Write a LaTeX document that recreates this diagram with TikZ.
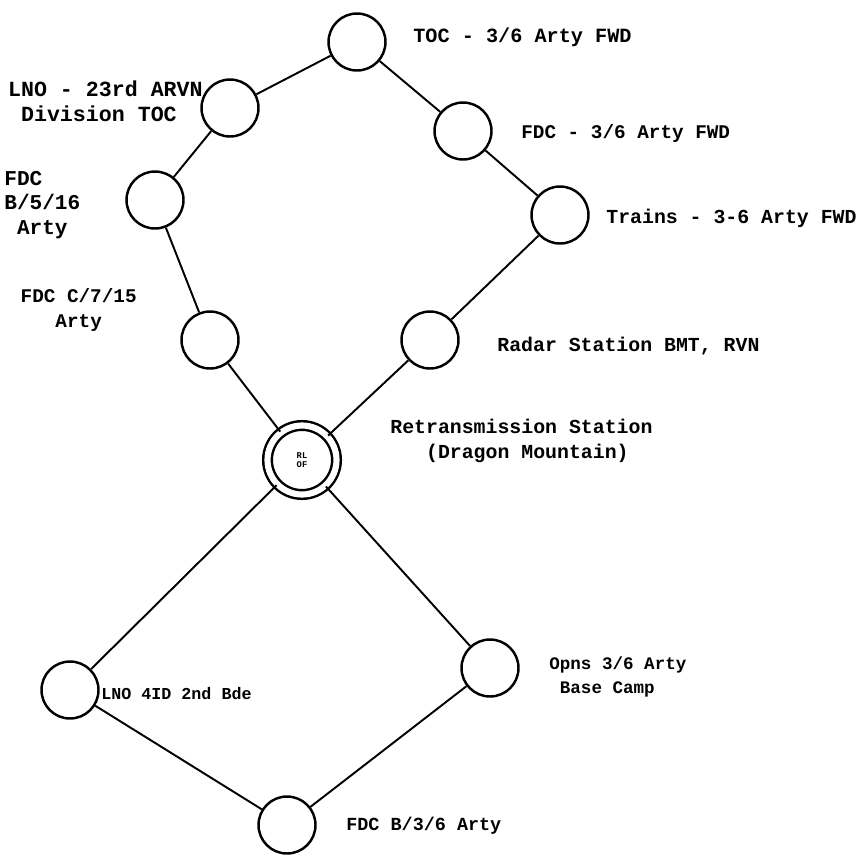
\documentclass[tikz,border=0pt]{standalone}
\usepackage{fontspec}
\setmonofont{Liberation Mono}
\usetikzlibrary{positioning}
\tikzset
{
    % Style for a station of the net
    station/.style=
    {
        draw,
        circle,
        line width=1.4pt,
        minimum size=1.14cm,
        inner sep=0pt
    },
    % Style for the relay station in the middle
    relay/.style=
    {
        station,
        double,
        double distance=3.5pt,
        minimum size=1.38cm,
        font=\ttfamily\bfseries\tiny,
        align=center
    },
    % Style for the radio links
    link/.style=
    {
        line width=1.1pt
    },
    % Style for the typed descriptions, the argument is the font size
    desc/.style=
    {
        font=\ttfamily\bfseries\fontsize{#1}{14}\selectfont,
        inner sep=0pt
    },
    desc/.default=11.5
}

\begin{document}
\begin{tikzpicture}[x=0.02cm,y=-0.02cm]
    % Fix the page size
    \useasboundingbox (0,0) rectangle (863,856);

    % Stations
    \node (toc)    [station] at (357,42)  {};
    \node (lno)    [station] at (230,108) {};
    \node (fdc)    [station] at (463,131) {};
    \node (fdcb)   [station] at (155,200) {};
    \node (trains) [station] at (560,215) {};
    \node (fdcc)   [station] at (210,340) {};
    \node (radar)  [station] at (430,340) {};
    \node (retrans)[relay]   at (302,460) {RL\\[-1pt]OF};
    \node (lnobde) [station] at (70,690)  {};
    \node (opns)   [station] at (490,668) {};
    \node (fdcbb)  [station] at (287,825) {};

    % Descriptions
    \node [desc,anchor=west] at (413,37) {TOC - 3/6 Arty FWD};
    \node [desc=12.3,anchor=east,align=left] at (203,101) {LNO - 23rd ARVN\\\phantom{L}Division TOC};
    \node [desc=11,anchor=west] at (521,133) {FDC - 3/6 Arty FWD};
    \node [desc=12,anchor=west,align=left] at (4,205) {FDC\\B/5/16\\\phantom{.}Arty};
    \node [desc=11.3,anchor=west] at (606,218) {Trains - 3-6 Arty FWD};
    \node [desc=11,anchor=east,align=center] at (137,310) {FDC C/7/15\\Arty};
    \node [desc=11.3,anchor=west] at (497,346) {Radar Station BMT, RVN};
    \node [desc=11.3,anchor=west,align=left] at (390,441) {Retransmission Station\\\phantom{Ret}(Dragon Mountain)};
    \node [desc=10,anchor=west,align=left] at (549,677) {Opns 3/6 Arty\\\phantom{O}Base Camp};
    \node [desc=9.5,anchor=west] at (101,694) {LNO 4ID 2nd Bde};
    \node [desc=10.5,anchor=west] at (346,826) {FDC B/3/6 Arty};

    % Links
    \draw[link] (toc) -- (lno);
    \draw[link] (toc) -- (fdc);
    \draw[link] (lno) -- (fdcb);
    \draw[link] (fdcb) -- (fdcc);
    \draw[link] (fdcc) -- (retrans);
    \draw[link] (fdc) -- (trains);
    \draw[link] (trains) -- (radar);
    \draw[link] (radar) -- (retrans);
    \draw[link] (retrans) -- (lnobde);
    \draw[link] (retrans) -- (opns);
    \draw[link] (lnobde) -- (fdcbb);
    \draw[link] (opns) -- (fdcbb);
\end{tikzpicture}
\end{document}
